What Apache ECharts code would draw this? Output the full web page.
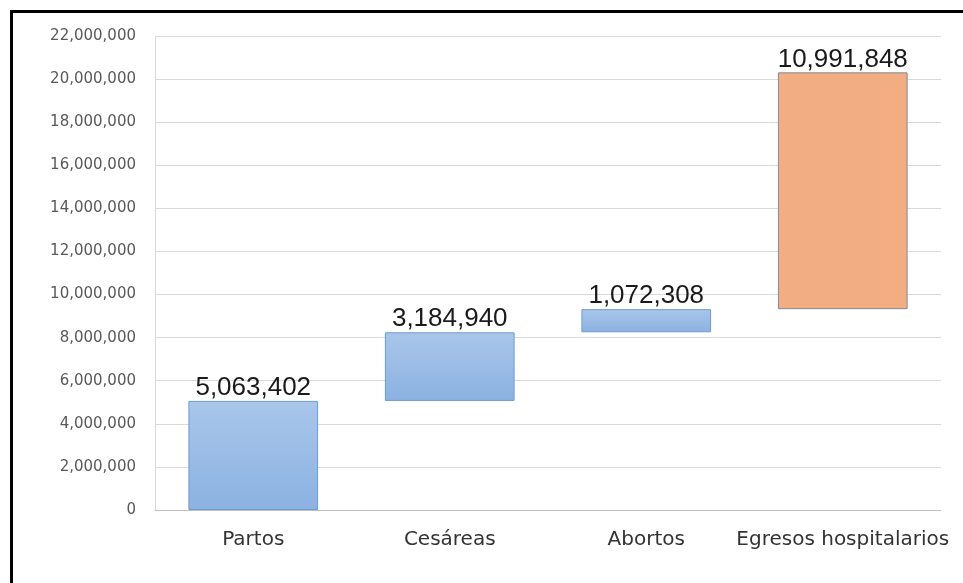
<!DOCTYPE html>
<html>
<head>
<meta charset="utf-8">
<script src="https://cdn.jsdelivr.net/npm/echarts@6/dist/echarts.min.js"></script>
<style>
html,body{margin:0;padding:0;background:#fff;}
#frame{position:absolute;left:10px;top:10px;width:953px;height:573px;border-top:3px solid #000;border-left:3px solid #000;box-sizing:border-box;}
#chart{position:absolute;left:0;top:0;width:963px;height:583px;}
</style>
</head>
<body>
<div id="frame"></div>
<div id="chart"></div>
<script>
const categories = ['Partos', 'Cesáreas', 'Abortos', 'Egresos hospitalarios'];
const values = [5063402, 3184940, 1072308, 10991848];
const bases = [0, 5063402, 8248342, 9320650];
const isTotal = [false, false, false, true];
const yTicks = { min: 0, max: 22000000, interval: 2000000 };

const fmt = v => Math.round(v).toString().replace(/\B(?=(\d{3})+(?!\d))/g, ',');

const blueFill = new echarts.graphic.LinearGradient(0, 0, 0, 1, [
  { offset: 0, color: '#a9c6ea' },
  { offset: 1, color: '#8bb2e2' }
]);

const chart = echarts.init(document.getElementById('chart'), null, { renderer: 'canvas' });
chart.setOption({
  animation: false,
  backgroundColor: 'transparent',
  grid: { left: 155, right: 22, top: 36, bottom: 73, containLabel: false },
  xAxis: {
    type: 'category',
    data: categories,
    axisLine: { show: true, lineStyle: { color: '#bfbfbf', width: 1 } },
    axisTick: { show: false },
    axisLabel: { interval: 0, color: '#333333', fontSize: 20, lineHeight: 20, fontFamily: 'DejaVu Sans, sans-serif', margin: 20 }
  },
  yAxis: {
    type: 'value',
    min: yTicks.min, max: yTicks.max, interval: yTicks.interval,
    axisLine: { show: true, lineStyle: { color: '#d9d9d9' } },
    axisTick: { show: false },
    splitLine: { lineStyle: { color: '#d9d9d9', width: 1 } },
    axisLabel: { color: '#595959', fontSize: 15, fontFamily: 'DejaVu Sans, sans-serif', margin: 19, formatter: fmt }
  },
  series: [
    {
      type: 'bar', stack: 'w', barWidth: '66%',
      itemStyle: { color: 'transparent' },
      emphasis: { disabled: true },
      data: bases
    },
    {
      type: 'bar', stack: 'w', barWidth: '66%',
      data: values.map((v, i) => ({
        value: v,
        itemStyle: isTotal[i]
          ? { color: '#f2ae82', borderColor: '#7f8a99', borderWidth: 1 }
          : { color: blueFill, borderColor: '#6e9bd1', borderWidth: 1 }
      })),
      label: {
        show: true, position: 'top', distance: 0,
        color: '#1a1a1a', fontSize: 26, lineHeight: 26, fontFamily: 'Liberation Sans, Arial, sans-serif',
        formatter: p => fmt(p.value)
      }
    }
  ]
});
</script>
</body>
</html>
